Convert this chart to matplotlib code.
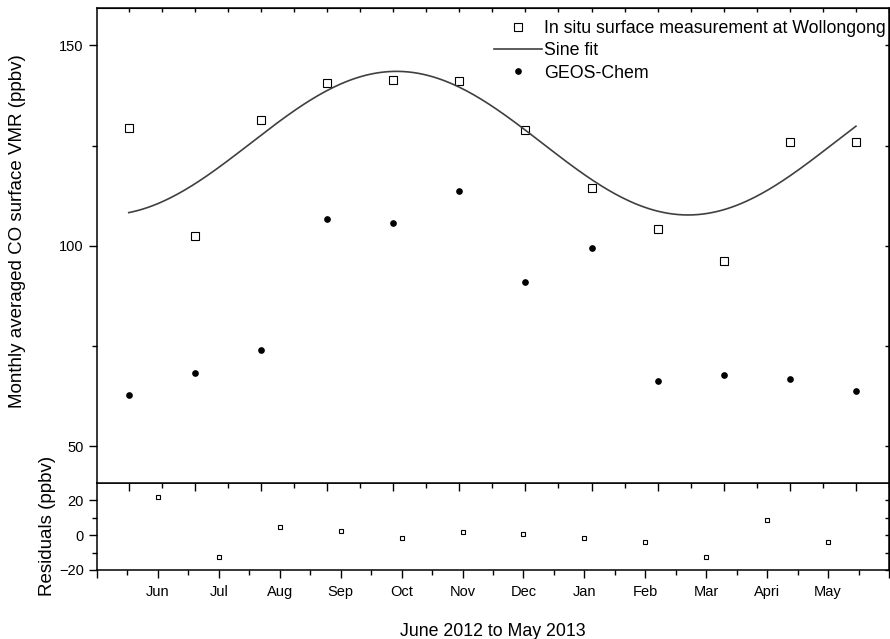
import numpy as np
import matplotlib.pyplot as plt
from matplotlib.ticker import MultipleLocator, FixedLocator

plt.rcParams["font.family"] = ["Liberation Sans", "DejaVu Sans"]

months = ["Jun", "Jul", "Aug", "Sep", "Oct", "Nov", "Dec", "Jan", "Feb", "Mar", "Apri", "May"]
in_situ = [129.5, 102.5, 131.4, 140.7, 141.4, 141.2, 129.0, 114.3, 104.3, 96.3, 126.0, 125.8]
geos_chem = [62.7, 68.2, 74.1, 106.7, 105.8, 113.6, 91.0, 99.5, 66.2, 67.9, 66.7, 63.7]
residuals = [21.7, -12.8, 4.4, 2.3, -1.9, 1.9, 0.6, -1.9, -4.0, -12.8, 8.4, -4.2]

# sine fit parameters (offset, amplitude, period in months, month of peak)
fit_offset = 125.6
fit_amp = 17.9
fit_period = 8.82
fit_peak = 4.05

idx = np.arange(len(months))
xfit = np.linspace(0, len(months) - 1, 300)
yfit = fit_offset + fit_amp * np.cos(2 * np.pi * (xfit - fit_peak) / fit_period)

fig = plt.figure(figsize=(8.9, 6.39), dpi=100)
axr = fig.add_axes([0.109, 0.108, 0.8899, 0.1369])
ax = fig.add_axes([0.109, 0.2449, 0.8899, 0.7426])
ax.set_zorder(3)

ax.plot(idx, in_situ, linestyle="none", marker="s", markersize=5.5,
        markerfacecolor="white", markeredgecolor="black", markeredgewidth=0.8,
        label="In situ surface measurement at Wollongong")
ax.plot(xfit, yfit, color="#404040", linewidth=1.2, label="Sine fit")
ax.plot(idx, geos_chem, linestyle="none", marker="o", markersize=3.8,
        color="black", label="GEOS-Chem")

ax.set_xlim(-0.48, 11.5)
ax.set_ylim(41, 159.3)
ax.yaxis.set_major_locator(FixedLocator([50, 100, 150]))
ax.yaxis.set_minor_locator(FixedLocator([75, 125]))
ax.xaxis.set_major_locator(MultipleLocator(1))
ax.xaxis.set_minor_locator(MultipleLocator(0.5))
ax.tick_params(axis="x", which="both", labelbottom=False, direction="out")
ax.tick_params(axis="x", which="major", length=6, width=1)
ax.tick_params(axis="x", which="minor", length=3.5, width=1)
ax.tick_params(axis="y", which="both", direction="out", labelsize=10.5, width=1)
ax.tick_params(axis="y", which="major", length=6)
ax.tick_params(axis="y", which="minor", length=3.5)
ax.set_ylabel("Monthly averaged CO surface VMR (ppbv)", fontsize=13.5)
ax.yaxis.set_label_coords(-0.0896, 0.53)
for s in ax.spines.values():
    s.set_linewidth(1.1)

top = ax.secondary_xaxis("top")
top.xaxis.set_major_locator(MultipleLocator(1))
top.xaxis.set_minor_locator(MultipleLocator(0.5))
top.tick_params(which="both", direction="in", length=3, width=1, labeltop=False)
right = ax.secondary_yaxis("right")
right.yaxis.set_major_locator(FixedLocator([50, 100, 150]))
right.yaxis.set_minor_locator(FixedLocator([75, 125]))
right.tick_params(which="both", direction="in", length=3, width=1, labelright=False)

ax.legend(loc="upper right", bbox_to_anchor=(1.005, 0.99), frameon=False, fontsize=12.8,
          handlelength=2.7, handletextpad=0.1, labelspacing=0.3, borderaxespad=0)

axr.plot(idx, residuals, linestyle="none", marker="s", markersize=3.4,
         markerfacecolor="white", markeredgecolor="black", markeredgewidth=0.8)
axr.set_xlim(-1, 12)
axr.set_ylim(-20, 30.2)
axr.set_xticks(np.arange(-1, 13))
axr.set_xticklabels([""] + months + [""])
axr.xaxis.set_minor_locator(MultipleLocator(0.5))
axr.yaxis.set_major_locator(FixedLocator([-20, 0, 20]))
axr.yaxis.set_minor_locator(FixedLocator([-10, 10]))
axr.tick_params(axis="both", which="both", direction="out", labelsize=10.5, width=1)
axr.tick_params(axis="both", which="major", length=6)
axr.tick_params(axis="both", which="minor", length=3.5)
axr.tick_params(axis="x", pad=5)
axr.set_ylabel("Residuals (ppbv)", fontsize=13.5)
axr.yaxis.set_label_coords(-0.0518, 0.5)
axr.set_xlabel("June 2012 to May 2013", fontsize=12.8, labelpad=17)
for s in axr.spines.values():
    s.set_linewidth(1.1)
rright = axr.secondary_yaxis("right")
rright.yaxis.set_major_locator(FixedLocator([-20, 0, 20]))
rright.yaxis.set_minor_locator(FixedLocator([-10, 10]))
rright.tick_params(which="both", direction="in", length=3, width=1, labelright=False)

fig.savefig("out.png", dpi=100)
